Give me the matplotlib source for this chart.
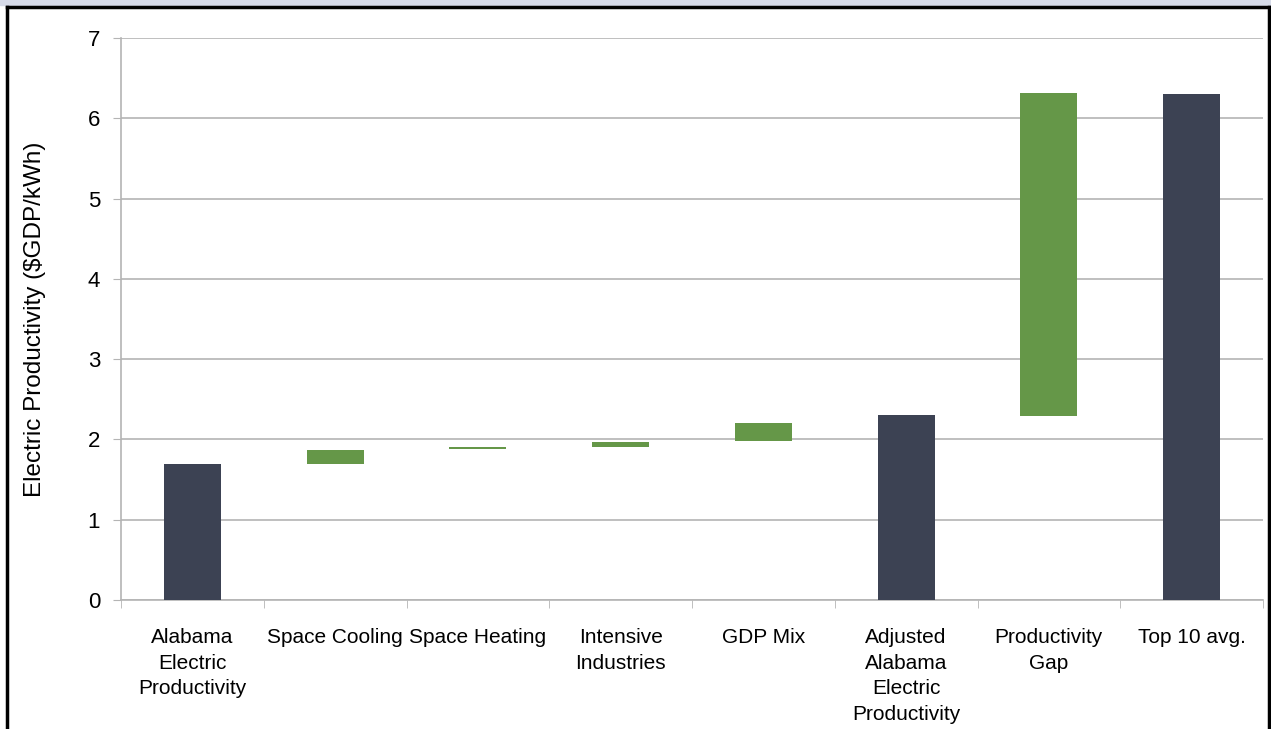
import matplotlib.pyplot as plt
from matplotlib.patches import Rectangle
from matplotlib.lines import Line2D
import numpy as np

categories = [
    "Alabama\nElectric\nProductivity",
    "Space Cooling",
    "Space Heating",
    "Intensive\nIndustries",
    "GDP Mix",
    "Adjusted\nAlabama\nElectric\nProductivity",
    "Productivity\nGap",
    "Top 10 avg.",
]
bar_bottom = [0, 1.70, 1.88, 1.91, 1.98, 0, 2.29, 0]
bar_top = [1.70, 1.87, 1.90, 1.97, 2.21, 2.30, 6.31, 6.30]
is_total = [True, False, False, False, False, True, False, True]

dark = "#3c4253"
green = "#659748"
grid_col = "#b4b4b4"

plt.rcParams["font.family"] = ["Liberation Sans", "DejaVu Sans"]

fig = plt.figure(figsize=(12.71, 7.29), dpi=100)
ax = fig.add_axes([121 / 1271, 1 - 600 / 729, 1142 / 1271, 562 / 729])

x = np.arange(len(categories))
heights = [t - b for t, b in zip(bar_top, bar_bottom)]
colors = [dark if t else green for t in is_total]
ax.bar(x, heights, bottom=bar_bottom, width=0.4, color=colors, zorder=3)

ax.set_xlim(-0.5, len(categories) - 0.5)
ax.set_ylim(0, 7)
ax.set_yticks(range(8))
ax.yaxis.grid(True, color=grid_col, lw=1.2, zorder=0)
ax.tick_params(axis="y", length=6, color=grid_col, labelsize=16, pad=9)

ax.set_xticks(x)
ax.set_xticklabels(categories, fontsize=15, linespacing=1.45, va="top")
ax.tick_params(axis="x", length=0, pad=20)
ax.set_xticks(np.arange(-0.5, len(categories)), minor=True)
ax.tick_params(axis="x", which="minor", length=6, color=grid_col)

for s in ["top", "right"]:
    ax.spines[s].set_visible(False)
for s in ["left", "bottom"]:
    ax.spines[s].set_color(grid_col)
    ax.spines[s].set_linewidth(1.2)

ax.set_ylabel("Electric Productivity (\\$GDP/kWh)", fontsize=17.5)
ax.yaxis.set_label_coords(-75 / 1142, 0.5)

# frame around the slide
fig.patches.append(Rectangle((0, 1 - 5 / 729), 1, 5 / 729, transform=fig.transFigure,
                             color="#d6dae8", zorder=0))
fig.lines.append(Line2D([7 / 1271, 1269 / 1271], [1 - 7 / 729, 1 - 7 / 729],
                        transform=fig.transFigure, color="black", lw=2.5))
fig.lines.append(Line2D([7 / 1271, 7 / 1271], [0, 1 - 7 / 729],
                        transform=fig.transFigure, color="black", lw=2.5))
fig.lines.append(Line2D([1269 / 1271, 1269 / 1271], [0, 1 - 7 / 729],
                        transform=fig.transFigure, color="black", lw=2.5))

fig.savefig("out.png", dpi=100)
